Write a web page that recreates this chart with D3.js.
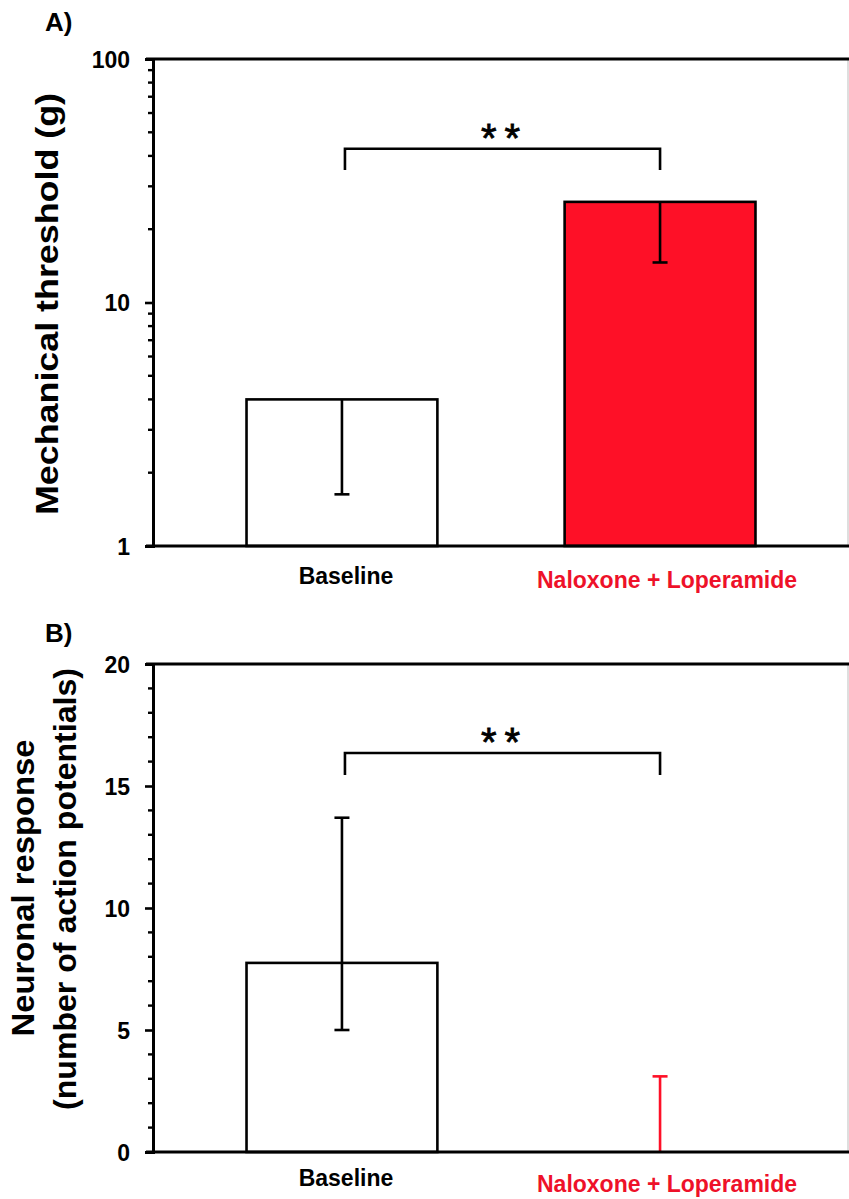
<!DOCTYPE html>
<html>
<head>
<meta charset="utf-8">
<script src="https://cdn.jsdelivr.net/npm/d3@7"></script>
<style>
  html, body { margin: 0; padding: 0; background: #fff; }
  svg { display: block; }
  text { font-family: "Liberation Sans", Arial, sans-serif; }
</style>
</head>
<body>
<svg id="chart" width="849" height="1199"></svg>
<script>
// ---------------- DATA ----------------
const categories = ["Baseline", "Naloxone + Loperamide"];

// Panel A: mechanical threshold (g), log scale
const thresholdMean    = [4.0, 25.9];
const thresholdErrLow  = [1.63, 14.6];
const thresholdErrHigh = [null, null];
const thresholdTicks   = [1, 10, 100];
const thresholdBracket = [42.8, 35.0];   // bracket level, leg end (data units)

// Panel B: neuronal response (number of action potentials)
const responseMean    = [7.75, 0];
const responseErrLow  = [5.0, null];
const responseErrHigh = [13.7, 3.1];
const responseTicks   = [0, 5, 10, 15, 20];
const responseBracket = [16.35, 15.45];

const sigLabel = "**";

// ---------------- STYLE ----------------
const RED = "#fe1027";
const LABEL_RED = "#ee1129";
const svg = d3.select("#chart");

const x = d3.scaleBand()
  .domain(categories)
  .range([153, 849])
  .paddingInner(0.4)
  .paddingOuter(0.294);

function drawPanel(cfg) {
  const g = svg.append("g");
  const y = cfg.y;
  const [yBottom, yTop] = y.range();

  // panel letter
  g.append("text")
    .attr("x", 45).attr("y", cfg.letterY)
    .attr("font-size", 26).attr("font-weight", "bold")
    .text(cfg.letter);

  // faint right border
  g.append("line")
    .attr("x1", 848).attr("x2", 848)
    .attr("y1", yTop).attr("y2", yBottom)
    .attr("stroke", "#c8c8c8").attr("stroke-width", 1.2);

  // bars
  categories.forEach((c, i) => {
    const v = cfg.mean[i];
    const yv = y(v);
    if (Math.abs(yBottom - yv) > 0.5) {
      g.append("rect")
        .attr("x", x(c)).attr("y", yv)
        .attr("width", x.bandwidth()).attr("height", yBottom - yv)
        .attr("fill", cfg.barFill[i])
        .attr("stroke", "#000").attr("stroke-width", 2.6);
    }
  });

  // error bars
  categories.forEach((c, i) => {
    const cx = x(c) + x.bandwidth() / 2;
    const ym = y(cfg.mean[i]);
    const col = cfg.errColor[i];
    const capW = 15;
    const ends = [];
    if (cfg.errHigh[i] != null) ends.push(y(cfg.errHigh[i]));
    if (cfg.errLow[i] != null) ends.push(y(cfg.errLow[i]));
    ends.forEach(ye => {
      g.append("line")
        .attr("x1", cx).attr("x2", cx)
        .attr("y1", ym).attr("y2", ye)
        .attr("stroke", col).attr("stroke-width", 2.6);
      g.append("line")
        .attr("x1", cx - capW / 2).attr("x2", cx + capW / 2)
        .attr("y1", ye).attr("y2", ye)
        .attr("stroke", col).attr("stroke-width", 2.6);
    });
  });

  // axes frame: top line
  g.append("line")
    .attr("x1", 146).attr("x2", 849)
    .attr("y1", yTop).attr("y2", yTop)
    .attr("stroke", "#000").attr("stroke-width", 3);
  // bottom line
  g.append("line")
    .attr("x1", 146).attr("x2", 849)
    .attr("y1", yBottom).attr("y2", yBottom)
    .attr("stroke", "#000").attr("stroke-width", 3);

  // y axis with major ticks
  const axis = d3.axisLeft(y)
    .tickValues(cfg.ticks)
    .tickFormat(d3.format("d"))
    .tickSize(8)
    .tickPadding(15);
  const ag = g.append("g").attr("transform", "translate(153,0)").call(axis);
  ag.attr("font-size", null).attr("font-family", null);
  ag.select(".domain").attr("stroke-width", 3);
  ag.selectAll(".tick line").attr("stroke-width", 2.6);
  ag.selectAll(".tick text")
    .attr("font-size", 23).attr("font-weight", "bold")
    .attr("fill", "#000")
    .attr("dy", "0.36em");

  // minor ticks
  g.selectAll(".minor")
    .data(cfg.minor)
    .enter().append("line")
    .attr("x1", 148).attr("x2", 153)
    .attr("y1", d => y(d)).attr("y2", d => y(d))
    .attr("stroke", "#000").attr("stroke-width", 2.4);

  // category labels
  categories.forEach((c, i) => {
    const cx = x(c) + x.bandwidth() / 2 + cfg.labelDx[i];
    g.append("text")
      .attr("x", cx).attr("y", cfg.labelY[i])
      .attr("text-anchor", "middle")
      .attr("font-size", 23).attr("font-weight", "bold")
      .attr("fill", cfg.labelColor[i])
      .text(c);
  });

  // significance bracket
  const x0 = x(categories[0]) + x.bandwidth() / 2 + 3;
  const x1 = x(categories[1]) + x.bandwidth() / 2;
  const yb = y(cfg.bracket[0]);
  const yl = y(cfg.bracket[1]);
  g.append("path")
    .attr("d", `M${x0},${yl}V${yb}H${x1}V${yl}`)
    .attr("fill", "none").attr("stroke", "#000").attr("stroke-width", 2.6);
  g.append("text")
    .attr("x", (x0 + x1) / 2 + 2).attr("y", yb + 3)
    .attr("text-anchor", "middle")
    .attr("font-size", 40)
    .attr("letter-spacing", 8)
    .attr("stroke", "#000").attr("stroke-width", 0.8)
    .text(sigLabel);

  // y title
  cfg.titles.forEach(t => {
    g.append("text")
      .attr("transform", `translate(${t.x},${t.cy}) rotate(-90)`)
      .attr("text-anchor", "middle")
      .attr("font-size", t.size).attr("font-weight", "bold")
      .attr("textLength", t.len).attr("lengthAdjust", "spacingAndGlyphs")
      .text(t.text);
  });
}

// Panel A
const yA = d3.scaleLog().domain([1, 100]).range([546, 59]);
const minorA = [];
[1, 10].forEach(dec => { for (let k = 2; k <= 9; k++) minorA.push(dec * k); });
drawPanel({
  letter: "A)", letterY: 31,
  y: yA,
  mean: thresholdMean, errLow: thresholdErrLow, errHigh: thresholdErrHigh,
  ticks: thresholdTicks, minor: minorA,
  bracket: thresholdBracket,
  barFill: ["#ffffff", RED],
  errColor: ["#000", "#000"],
  labelColor: ["#000", LABEL_RED],
  labelY: [584, 588],
  labelDx: [4, 7],
  titles: [{ text: "Mechanical threshold (g)", x: 58, cy: 304, size: 32, len: 422 }]
});

// Panel B
const yB = d3.scaleLinear().domain([0, 20]).range([1152, 664]);
const minorB = d3.range(1, 20).filter(d => d % 5 !== 0);
drawPanel({
  letter: "B)", letterY: 642,
  y: yB,
  mean: responseMean, errLow: responseErrLow, errHigh: responseErrHigh,
  ticks: responseTicks, minor: minorB,
  bracket: responseBracket,
  barFill: ["#ffffff", RED],
  errColor: ["#000", RED],
  labelColor: ["#000", LABEL_RED],
  labelY: [1186, 1192],
  labelDx: [4, 7],
  titles: [
    { text: "Neuronal response", x: 34, cy: 888, size: 32, len: 297 },
    { text: "(number of action potentials)", x: 76, cy: 889, size: 32, len: 442 }
  ]
});
</script>
</body>
</html>
